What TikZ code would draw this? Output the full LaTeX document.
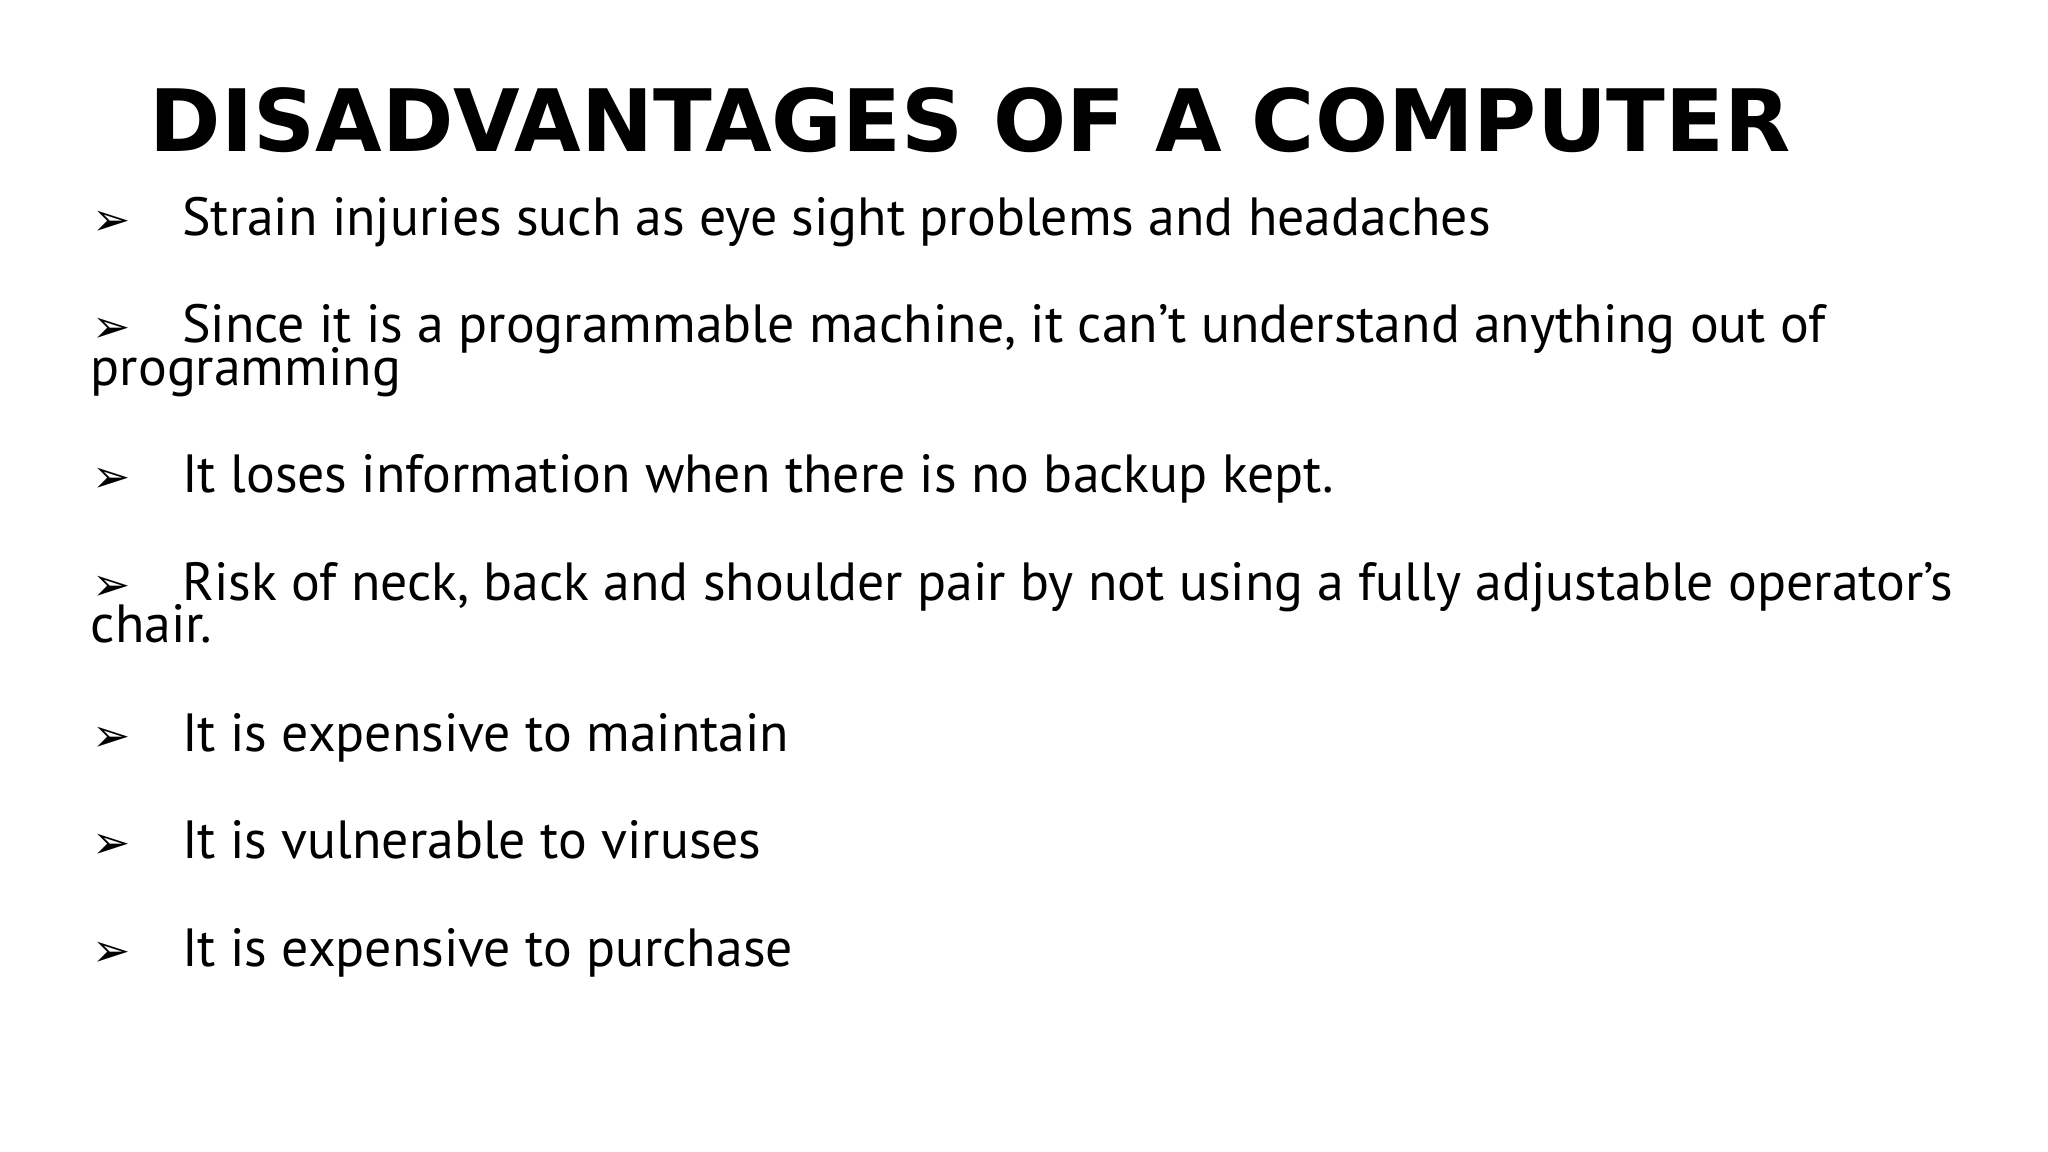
\documentclass[tikz,border=0pt]{standalone}
\usepackage{fontspec}
\setmainfont{PT Sans}
\newfontfamily\titlefont{DejaVu Sans}
\newfontfamily\symfont{DejaVu Sans}
\begin{document}
\begin{tikzpicture}[x=0.013061cm,y=-0.013061cm,
  txt/.style={anchor=base west,inner sep=0pt,font=\fontsize{15.3}{18}\selectfont},
  bul/.style={anchor=base west,inner sep=0pt,font=\symfont\fontsize{13}{16}\selectfont}]
\useasboundingbox[fill=white] (0,0) rectangle (1568,882);
\node[anchor=base,inner sep=0pt,font=\titlefont\bfseries\fontsize{24.5}{30}\selectfont] (title) at (743,116) {DISADVANTAGES OF A COMPUTER};
\node[bul] (b1) at (70,180) {➢}; \node[txt] (t1) at (139,180) {Strain injuries such as eye sight problems and headaches};
\node[bul] (b2) at (70,262) {➢}; \node[txt] (t2) at (139,262) {Since it is a programmable machine, it can’t understand anything out of};
\node[txt] (t2b) at (69,295) {programming};
\node[bul] (b3) at (70,377) {➢}; \node[txt] (t3) at (139,377) {It loses information when there is no backup kept.};
\node[bul] (b4) at (70,460) {➢}; \node[txt] (t4) at (139,460) {Risk of neck, back and shoulder pair by not using a fully adjustable operator’s};
\node[txt] (t4b) at (69,492) {chair.};
\node[bul] (b5) at (70,575) {➢}; \node[txt] (t5) at (139,575) {It is expensive to maintain};
\node[bul] (b6) at (70,657) {➢}; \node[txt] (t6) at (139,657) {It is vulnerable to viruses};
\node[bul] (b7) at (70,740) {➢}; \node[txt] (t7) at (139,740) {It is expensive to purchase};
\end{tikzpicture}
\end{document}
